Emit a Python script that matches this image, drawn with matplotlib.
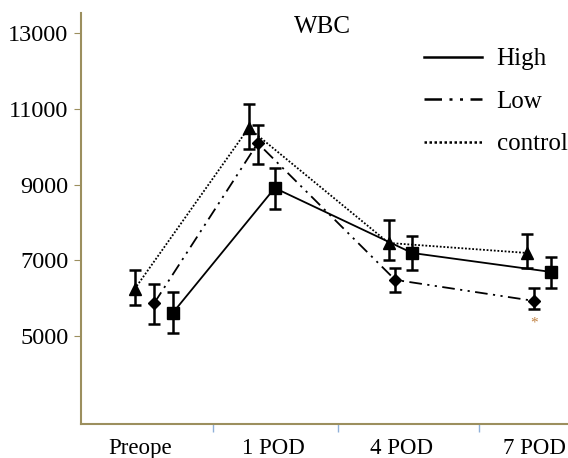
import matplotlib.pyplot as plt

plt.rcParams['font.family'] = ['Liberation Serif', 'DejaVu Serif']

categories = ["Preope", "1 POD", "4 POD", "7 POD"]

# x positions of each series (offset from category centres as in the figure)
high_x = [0.25, 1.03, 2.08, 3.14]
low_x = [0.11, 0.90, 1.95, 3.01]
ctrl_x = [-0.04, 0.83, 1.90, 2.96]

high_y = [5610, 8910, 7195, 6695]
high_lo = [5085, 8355, 6745, 6270]
high_hi = [6165, 9440, 7645, 7090]

low_y = [5875, 10095, 6485, 5930]
low_lo = [5320, 9545, 6165, 5720]
low_hi = [6375, 10575, 6800, 6270]

ctrl_y = [6245, 10495, 7460, 7195]
ctrl_lo = [5825, 9940, 7010, 6800]
ctrl_hi = [6745, 11125, 8065, 7695]

fig = plt.figure(figsize=(5.68, 4.58), dpi=100)
ax = fig.add_axes([0.1426, 0.0742, 0.8574, 0.8974])


def draw(x, y, lo, hi, ls, marker, ms, label):
    err = [[a - b for a, b in zip(y, lo)], [b - a for a, b in zip(y, hi)]]
    ax.plot(x, y, color="black", linestyle=ls, linewidth=1.3, label=label)
    ax.errorbar(x, y, yerr=err, fmt=marker, color="black", markersize=ms,
                elinewidth=1.8, capsize=4, capthick=1.8, linestyle="none")


draw(high_x, high_y, high_lo, high_hi, "-", "s", 9, "High")
draw(low_x, low_y, low_lo, low_hi, (0, (7, 3, 1.2, 3, 1.2, 3)), "D", 6, "Low")
draw(ctrl_x, ctrl_y, ctrl_lo, ctrl_hi, (0, (1, 1)), "^", 9, "control")

ax.text(3.01, 5350, "*", color="#c08040", fontsize=11, ha="center", va="center")

ax.set_xlim(-0.45, 3.27)
ax.set_ylim(2680, 13530)
ax.set_yticks([5000, 7000, 9000, 11000, 13000])
ax.set_xticks([0, 1.02, 2.0, 3.01])
ax.set_xticklabels(categories)
ax.set_xticks([0.56, 1.51, 2.59], minor=True)
ax.tick_params(axis="x", which="major", length=0, labelsize=16.5, pad=10)
ax.tick_params(axis="x", which="minor", length=6, color="#8fb0d8", width=1)
ax.tick_params(axis="y", length=5, color="#9c8f5e", labelsize=17.5, pad=4)

for s in ["top", "right"]:
    ax.spines[s].set_visible(False)
for s in ["left", "bottom"]:
    ax.spines[s].set_color("#9c8f5e")
    ax.spines[s].set_linewidth(1.5)

fig.text(0.567, 0.942, "WBC", fontsize=18, ha="center", va="center")

leg = ax.legend(loc="upper right", bbox_to_anchor=(1.045, 0.97), frameon=False,
                fontsize=18, handlelength=2.3, labelspacing=0.8, handletextpad=0.6)
for line in leg.get_lines():
    line.set_linewidth(1.8)

fig.savefig("out.png", dpi=100)
